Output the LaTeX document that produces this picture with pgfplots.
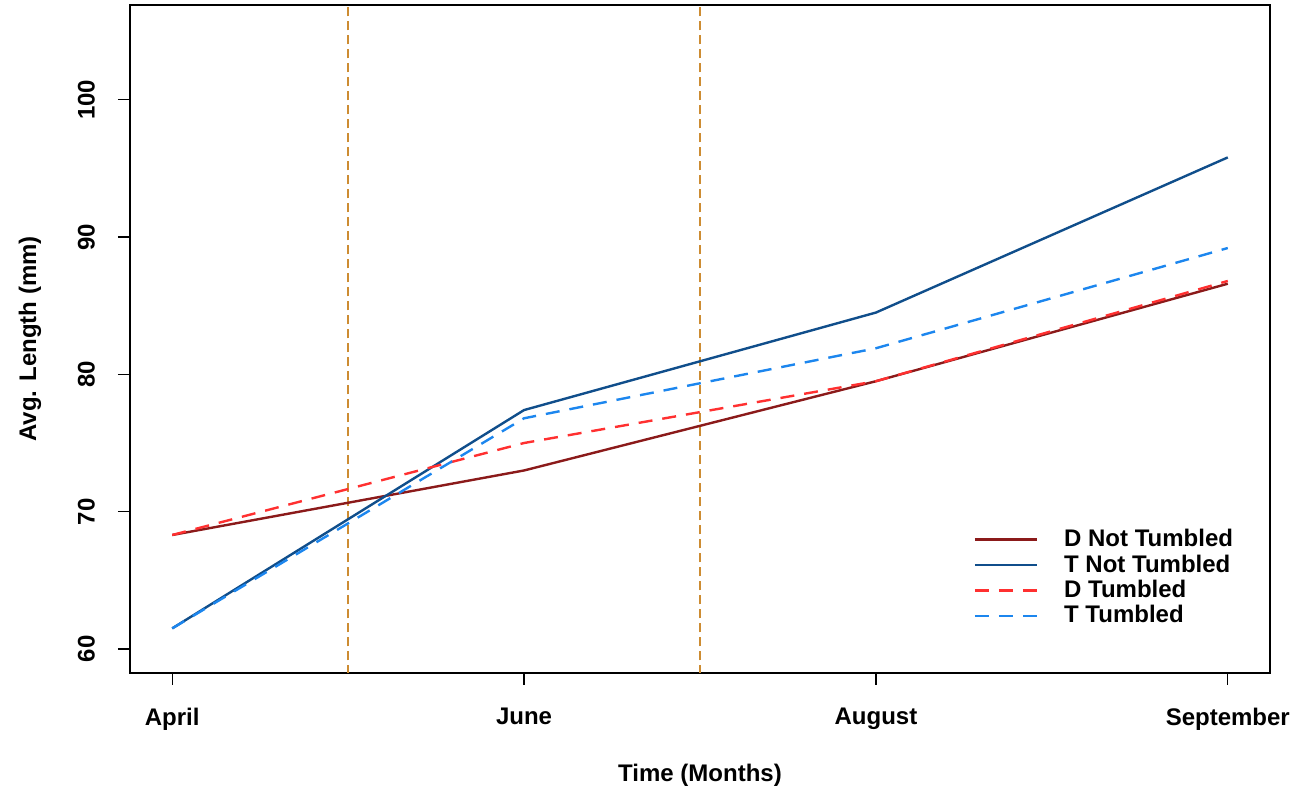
\documentclass[border=0pt]{standalone}
\usepackage{pgfplots}
\pgfplotsset{compat=1.18}
\usepackage{fontspec}
\setmainfont{Liberation Sans}
\definecolor{dnt}{RGB}{139,26,26}
\definecolor{tnt}{RGB}{16,78,139}
\definecolor{dt}{RGB}{255,48,48}
\definecolor{tt}{RGB}{28,134,238}
\definecolor{vl}{RGB}{205,140,50}
\begin{document}
\begin{tikzpicture}
\begin{axis}[
  at={(0,0)}, anchor=south west,
  scale only axis, width=570pt, height=334pt,
  xmin=-0.12, xmax=3.12, ymin=58.25, ymax=106.9,
  xtick={0,1,2,3}, xticklabels={April,June,August,September},
  ytick={60,70,80,90,100},
  tick align=outside, xtick pos=bottom, ytick pos=left,
  major tick length=6pt,
  tick style={black, line width=0.6pt},
  axis line style={line width=0.6pt},
  font=\fontsize{12pt}{14pt}\selectfont\bfseries,
  /pgf/number format/assume math mode=true,
  xticklabel style={font=\fontsize{12pt}{14pt}\selectfont\bfseries, yshift=-8pt},
  yticklabel style={font=\fontsize{12pt}{14pt}\selectfont\bfseries, xshift=-8pt, rotate=90, anchor=south},
  xlabel={Time (Months)}, ylabel={Avg. Length (mm)},
  xlabel style={at={([yshift=-51pt]axis description cs:0.5,0)}, anchor=center},
  ylabel style={at={([xshift=-50pt]axis description cs:0,0.5)}, anchor=center},
  legend cell align=left,
  legend style={draw=none, fill=none, at={(rel axis cs:0.7345,0.2276)}, anchor=north west,
    font=\fontsize{12pt}{12.85pt}\selectfont\bfseries, row sep=-1.5pt,
    /tikz/every even column/.append style={column sep=0pt},
    nodes={inner xsep=13pt}},
  legend image code/.code={\draw[#1] (-8pt,0pt) -- (23pt,0pt);},
]
\addplot[vl, line width=0.7pt, dash pattern=on 4.5pt off 2.5pt, forget plot] coordinates {(0.5,50) (0.5,110)};
\addplot[vl, line width=0.7pt, dash pattern=on 4.5pt off 2.5pt, forget plot] coordinates {(1.5,50) (1.5,110)};
\addplot[dnt, line width=1.2pt] coordinates {(0,68.3) (1,73.0) (2,79.5) (3,86.6)};
\addlegendentry{D Not Tumbled}
\addplot[tnt, line width=1.2pt] coordinates {(0,61.5) (1,77.4) (2,84.5) (3,95.8)};
\addlegendentry{T Not Tumbled}
\addplot[dt, line width=1.2pt, dash pattern=on 7pt off 5pt] coordinates {(0,68.3) (1,75.0) (2,79.5) (3,86.8)};
\addlegendentry{D Tumbled}
\addplot[tt, line width=1.2pt, dash pattern=on 7pt off 5pt] coordinates {(0,61.5) (1,76.8) (2,81.9) (3,89.2)};
\addlegendentry{T Tumbled}
\end{axis}
\pgfresetboundingbox
\path[use as bounding box] (-65pt,-59pt) rectangle (583pt,336.5pt);
\end{tikzpicture}
\end{document}
